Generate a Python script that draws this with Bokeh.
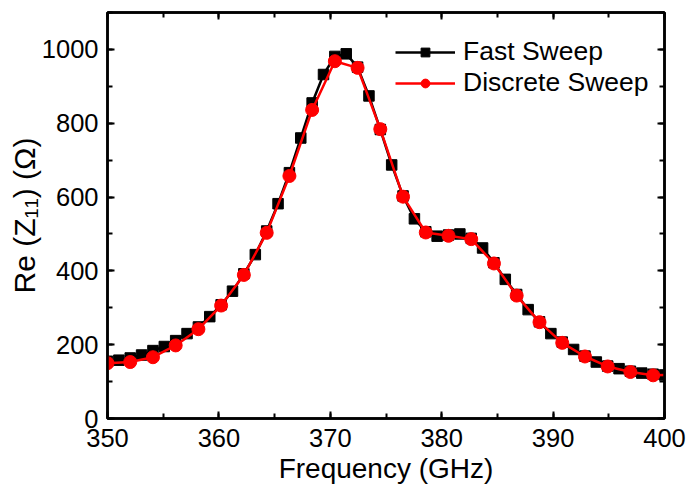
from bokeh.plotting import figure
from bokeh.models import Range1d, LinearAxis, SingleIntervalTicker, Legend, LegendItem
from bokeh.embed import file_html
from bokeh.resources import INLINE

# Fast Sweep (black squares)
fast_freq = [350.00, 351.02, 352.04, 353.06, 354.08, 355.10, 356.12, 357.14, 358.16, 359.18,
             360.20, 361.22, 362.24, 363.27, 364.29, 365.31, 366.33, 367.35, 368.37, 369.39,
             370.41, 371.43, 372.45, 373.47, 374.49, 375.51, 376.53, 377.55, 378.57, 379.59,
             380.61, 381.63, 382.65, 383.67, 384.69, 385.71, 386.73, 387.76, 388.78, 389.80,
             390.82, 391.84, 392.86, 393.88, 394.90, 395.92, 396.94, 397.96, 398.98, 400.00]
fast_val = [155, 158, 164, 172, 184, 195, 211, 230, 248, 276,
            308, 345, 392, 444, 508, 582, 666, 760, 855, 932,
            981, 988, 952, 874, 783, 687, 603, 541, 506, 494,
            497, 500, 488, 462, 422, 377, 336, 295, 262, 230,
            207, 187, 169, 153, 142, 135, 128, 123, 120, 118]

# Discrete Sweep (red circles); last point only continues the line to the axis
disc_freq = [350.00, 352.04, 354.08, 356.12, 358.16, 360.20, 362.24, 364.29, 366.33, 368.37,
             370.41, 372.45, 374.49, 376.53, 378.57, 380.61, 382.65, 384.69, 386.73, 388.78,
             390.82, 392.86, 394.90, 396.94, 398.98, 400.00]
disc_val = [150, 153, 166, 198, 242, 306, 389, 503, 657, 836,
            968, 950, 784, 601, 504, 495, 486, 420, 333, 261,
            205, 168, 141, 126, 117, 118]
disc_marker_count = 25

x_ticks_interval = 10
y_ticks_interval = 200

FONT = "Liberation Sans"

p = figure(width=687, height=492, output_backend="svg", toolbar_location=None,
           x_range=Range1d(350, 400), y_range=Range1d(0, 1100),
           min_border_left=107, min_border_right=23, min_border_top=12, min_border_bottom=74,
           x_axis_label="Frequency (GHz)", y_axis_label="Re (Z\u2081\u2081) (\u03a9)")
p.background_fill_color = "white"
p.border_fill_color = "white"
p.xgrid.visible = False
p.ygrid.visible = False
p.outline_line_color = "black"
p.outline_line_width = 2.5

def style_axis(ax, labels=True):
    ax.axis_line_color = "black"
    ax.axis_line_width = 2.5
    ax.major_tick_line_color = "black"
    ax.major_tick_line_width = 2
    ax.minor_tick_line_color = "black"
    ax.minor_tick_line_width = 2
    ax.major_tick_in = 7
    ax.major_tick_out = 0
    ax.minor_tick_in = 5
    ax.minor_tick_out = 0
    ax.major_label_text_font = FONT
    ax.axis_label_text_font = FONT
    ax.axis_label_text_font_style = "normal"
    ax.axis_label_text_color = "black"
    if labels:
        ax.major_label_text_color = "black"
        ax.major_label_text_font_size = "25.5px"
        ax.major_label_standoff = 9
    else:
        ax.major_label_text_color = None
        ax.major_label_text_font_size = "1px"
        ax.major_label_standoff = 0

p.xaxis[0].ticker = SingleIntervalTicker(interval=x_ticks_interval, num_minor_ticks=2)
p.yaxis[0].ticker = SingleIntervalTicker(interval=y_ticks_interval, num_minor_ticks=2)
style_axis(p.xaxis[0])
style_axis(p.yaxis[0])
p.xaxis[0].major_label_standoff = 10
p.xaxis[0].axis_label_text_font_size = "28px"
p.xaxis[0].axis_label_standoff = 3
p.yaxis[0].axis_label_text_font_size = "30px"
p.yaxis[0].axis_label_standoff = -2

top = LinearAxis(ticker=SingleIntervalTicker(interval=x_ticks_interval, num_minor_ticks=2))
right = LinearAxis(ticker=SingleIntervalTicker(interval=y_ticks_interval, num_minor_ticks=2))
style_axis(top, labels=False)
style_axis(right, labels=False)
p.add_layout(top, "above")
p.add_layout(right, "right")

l1 = p.line(fast_freq, fast_val, line_color="black", line_width=2.5)
s1 = p.scatter(fast_freq, fast_val, marker="square", size=10.5, fill_color="black", line_color="black")
l2 = p.line(disc_freq, disc_val, line_color="#ff0000", line_width=2.5)
s2 = p.scatter(disc_freq[:disc_marker_count], disc_val[:disc_marker_count], marker="circle",
               size=13, fill_color="#ff0000", line_color="#ff0000")

legend = Legend(items=[LegendItem(label="Fast Sweep", renderers=[l1, s1]),
                       LegendItem(label="Discrete Sweep", renderers=[l2, s2])],
                location=(288, 320))
legend.background_fill_alpha = 0
legend.border_line_color = None
legend.padding = 0
legend.margin = 0
legend.spacing = 0
legend.glyph_width = 60
legend.glyph_height = 22
legend.label_height = 24
legend.label_standoff = 8
legend.label_text_font = FONT
legend.label_text_font_size = "26.5px"
legend.label_text_color = "black"
p.add_layout(legend, "center")

open("out.html", "w").write(file_html(p, INLINE))
